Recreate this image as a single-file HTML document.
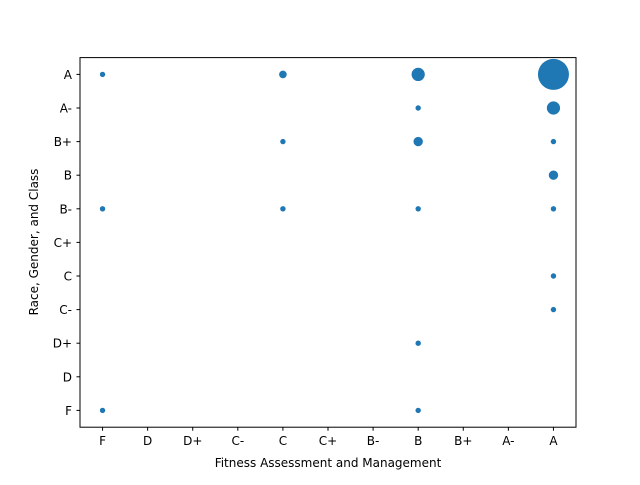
<!DOCTYPE html>
<html><head><meta charset="utf-8"><style>
body{margin:0;background:#fff;}
svg text{font-family:"DejaVu Sans","Liberation Sans",sans-serif;font-size:12px;fill:#000;}
</style></head><body>
<svg id="chart" width="640" height="480">
<rect x="0" y="0" width="640" height="480" fill="#fff"/>
<g id="marks"></g>
<rect x="80" y="57.6" width="496" height="369.6" fill="none" stroke="#000" stroke-width="1"/>
<g id="xticks"></g><g id="yticks"></g>
<text x="328" y="467" text-anchor="middle">Fitness Assessment and Management</text>
<text transform="translate(38,242) rotate(-90)" text-anchor="middle">Race, Gender, and Class</text>
</svg>
<script>
const grades = ["F","D","D+","C-","C","C+","B-","B","B+","A-","A"];
const xVals = ["F","C","B","A","B","A","C","B","A","A","F","C","B","A","A","A","B","F","B"];
const yVals = ["A","A","A","A","A-","A-","B+","B+","B+","B","B-","B-","B-","B-","C","C-","D+","F","F"];
const counts = [1,2,6,33,1,6,1,3,1,3,1,1,1,1,1,1,1,1,1];
const NS="http://www.w3.org/2000/svg";
function xs(g){return 80+(grades.indexOf(g)+0.5)*496/11;}
function ys(g){return 427.2-(grades.indexOf(g)+0.5)*369.6/11;}
const m=document.getElementById('marks');
counts.forEach((c,i)=>{
 const e=document.createElementNS(NS,'circle');
 e.setAttribute('cx',xs(xVals[i]));e.setAttribute('cy',ys(yVals[i]));
 e.setAttribute('r',2.7*Math.sqrt(c));e.setAttribute('fill','#1f77b4');
 
 
 m.appendChild(e);
});
const xt=document.getElementById('xticks'),yt=document.getElementById('yticks');
grades.forEach(g=>{
 const x=xs(g);
 const l=document.createElementNS(NS,'line');
 l.setAttribute('x1',x);l.setAttribute('x2',x);l.setAttribute('y1',427.2);l.setAttribute('y2',430.7);l.setAttribute('stroke','#000');
 
 
 xt.appendChild(l);
 const t=document.createElementNS(NS,'text');
 t.setAttribute('x',x);t.setAttribute('y',445);t.setAttribute('text-anchor','middle');t.textContent=g;
 
 
 xt.appendChild(t);
 const y=ys(g);
 const l2=document.createElementNS(NS,'line');
 l2.setAttribute('x1',76.5);l2.setAttribute('x2',80);l2.setAttribute('y1',y);l2.setAttribute('y2',y);l2.setAttribute('stroke','#000');
 
 
 yt.appendChild(l2);
 const t2=document.createElementNS(NS,'text');
 t2.setAttribute('x',72);t2.setAttribute('y',y+4.5);t2.setAttribute('text-anchor','end');t2.textContent=g;
 
 
 yt.appendChild(t2);
});
</script>
</body></html>
